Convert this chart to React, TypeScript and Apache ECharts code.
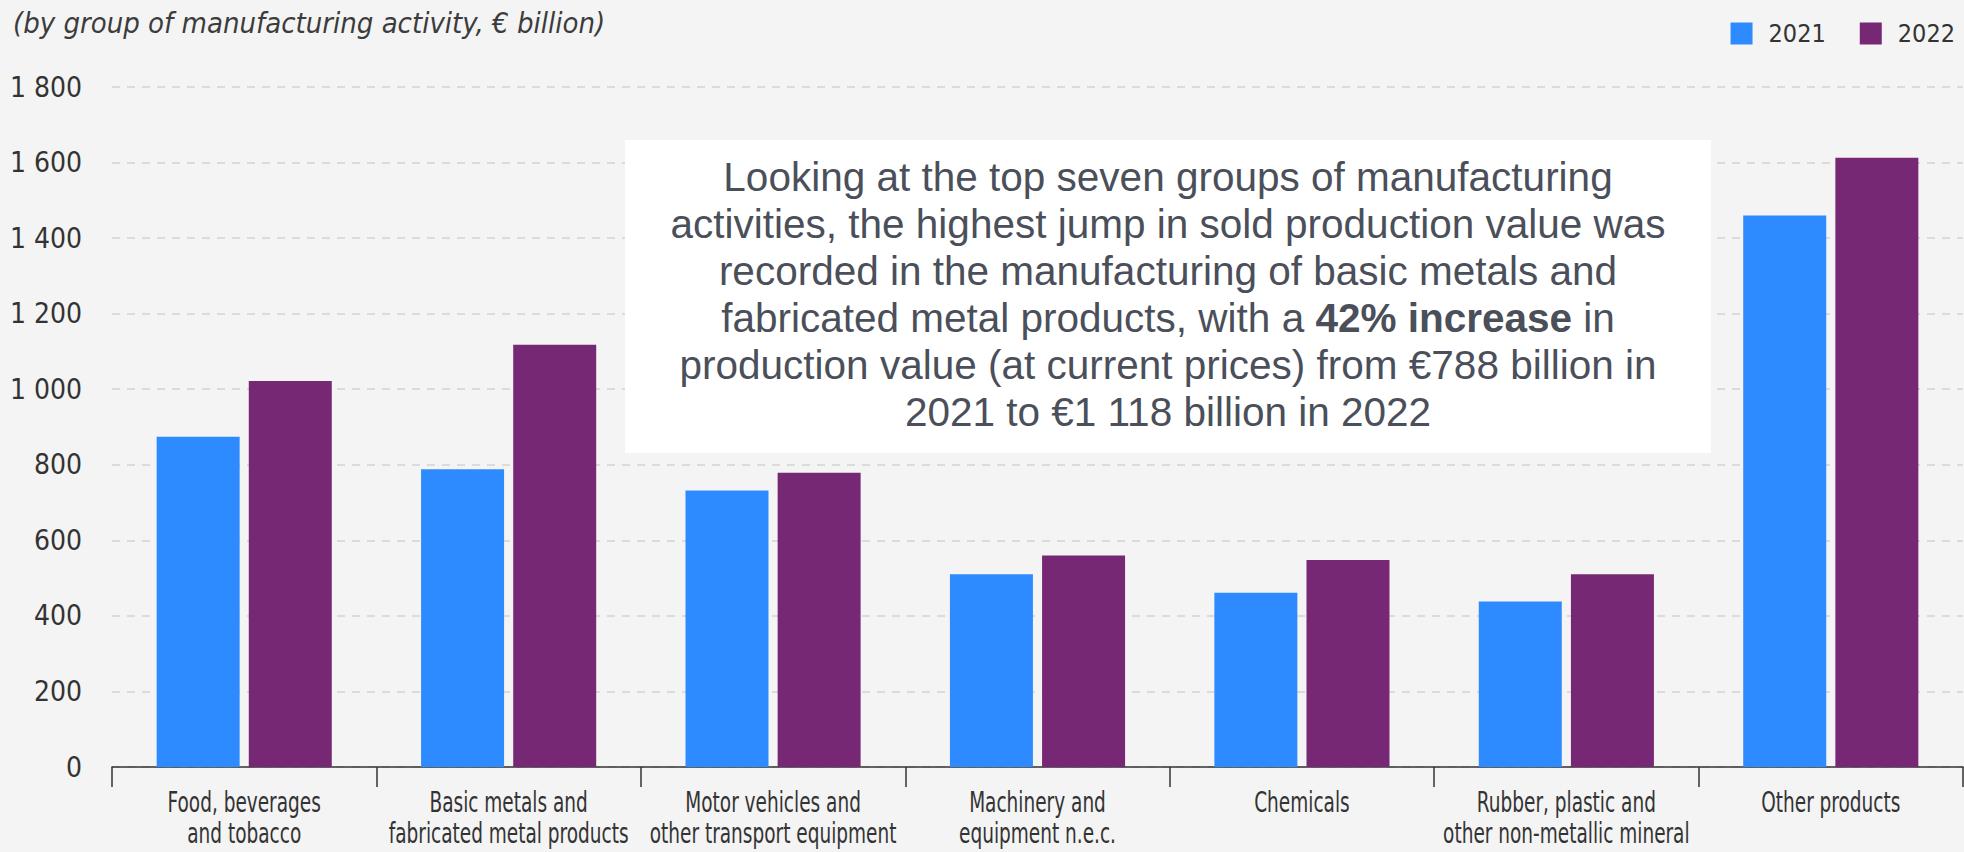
import React, { useEffect, useRef } from "react";
import * as echarts from "echarts";

const categories = [
  "Food, beverages\nand tobacco",
  "Basic metals and\nfabricated metal products",
  "Motor vehicles and\nother transport equipment",
  "Machinery and\nequipment n.e.c.",
  "Chemicals",
  "Rubber, plastic and\nother non-metallic mineral",
  "Other products",
];
const values2021 = [874, 788, 732, 510, 461, 438, 1460];
const values2022 = [1022, 1118, 779, 560, 548, 510, 1613];
const seriesNames = ["2021", "2022"];
const titleText = "(by group of manufacturing activity, € billion)";
const noteText =
  "Looking at the top seven groups of manufacturing\n" +
  "activities, the highest jump in sold production value was\n" +
  "recorded in the manufacturing of basic metals and\n" +
  "fabricated metal products, with a {b|42% increase} in\n" +
  "production value (at current prices) from €788 billion in\n" +
  "2021 to €1 118 billion in 2022";

const NARROW = "'Liberation Sans Narrow', 'DejaVu Sans Condensed', sans-serif";
const SANS = "'Liberation Sans', Arial, Helvetica, sans-serif";

export default function App() {
  const ref = useRef<HTMLDivElement>(null);
  useEffect(() => {
    if (!ref.current) return;
    const chart = echarts.init(ref.current, null, { renderer: "svg" });
    chart.setOption({
      animation: false,
      backgroundColor: "#f4f4f4",
      title: {
        text: titleText,
        left: 8,
        top: 3,
        textStyle: {
          fontStyle: "italic",
          fontWeight: "normal",
          fontSize: 29,
          fontFamily: NARROW,
          color: "#3c3c3c",
        },
      },
      legend: {
        data: seriesNames,
        right: 4,
        top: 16,
        itemWidth: 22,
        itemHeight: 22,
        itemGap: 34,
        icon: "rect",
        textStyle: {
          fontSize: 25,
          fontFamily: NARROW,
          color: "#333",
          padding: [0, 0, 0, 11],
        },
      },
      grid: { left: 112, right: 1, top: 87, bottom: 85, containLabel: false },
      xAxis: {
        type: "category",
        data: categories,
        axisLine: { lineStyle: { color: "#333", width: 1.5 } },
        axisTick: { show: true, length: 20, lineStyle: { color: "#333", width: 1.5 } },
        axisLabel: { show: false },
      },
      yAxis: {
        type: "value",
        min: 0,
        max: 1800,
        interval: 200,
        axisLine: { show: false },
        axisTick: { show: false },
        axisLabel: {
          margin: 30,
          fontSize: 28,
          fontFamily: NARROW,
          color: "#333",
          formatter: (v: number) => String(v).replace(/\B(?=(\d{3})+(?!\d))/g, " "),
        },
        splitLine: {
          lineStyle: { color: "#d2d2d2", width: 1.5, type: [8, 7] },
        },
      },
      series: [
        {
          name: seriesNames[0],
          type: "bar",
          data: values2021,
          barWidth: 83,
          barGap: "11%",
          itemStyle: { color: "#2e8bff" },
        },
        {
          name: seriesNames[1],
          type: "bar",
          data: values2022,
          barWidth: 83,
          itemStyle: { color: "#772875" },
        },
        {
          name: "categoryLabels",
          type: "custom",
          silent: true,
          clip: false,
          data: categories.map((_, i) => [i, 0]),
          renderItem: (params: any, api: any) => {
            const pt = api.coord([api.value(0), 0]);
            return {
              type: "text",
              x: pt[0],
              y: pt[1] + 20,
              scaleX: 0.71,
              style: {
                text: categories[params.dataIndex],
                align: "center",
                verticalAlign: "top",
                fontSize: 29,
                lineHeight: 31,
                fontFamily: NARROW,
                fill: "#333",
              },
            };
          },
        },
      ],
      graphic: [
        {
          type: "rect",
          shape: { x: 625, y: 140, width: 1086, height: 313 },
          style: { fill: "#ffffff" },
          z: 100,
        },
        {
          type: "text",
          x: 1168,
          y: 294,
          z: 101,
          style: {
            text: noteText,
            fontSize: 40.5,
            fontFamily: SANS,
            fill: "#4a4f5a",
            lineHeight: 47,
            align: "center",
            verticalAlign: "middle",
            rich: {
              b: {
                fontSize: 40.5,
                fontFamily: SANS,
                fontWeight: "bold",
                fill: "#4a4f5a",
                lineHeight: 47,
              },
            },
          },
        },
      ],
    });
    return () => chart.dispose();
  }, []);
  return (
    <div
      ref={ref}
      style={{ position: "absolute", left: 0, top: 0, width: 1964, height: 852 }}
    />
  );
}
